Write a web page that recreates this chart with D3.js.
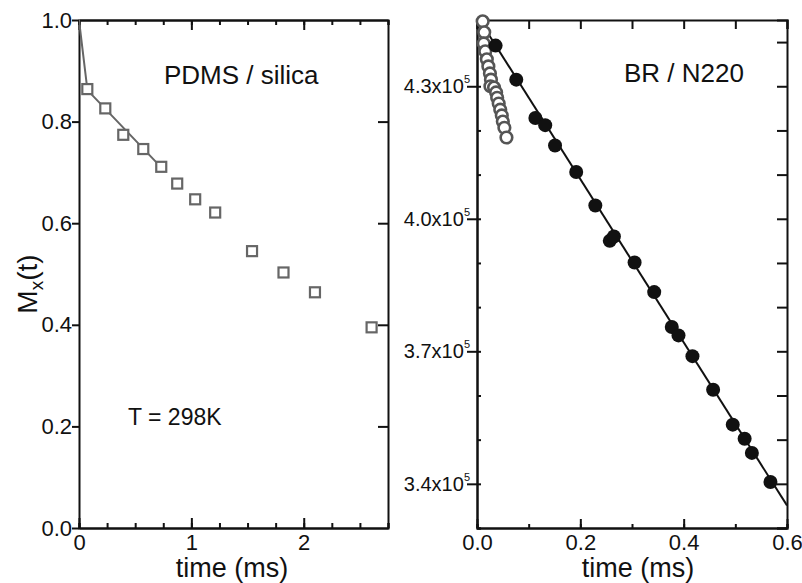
<!DOCTYPE html>
<html>
<head>
<meta charset="utf-8">
<script src="https://cdn.jsdelivr.net/npm/d3@7"></script>
<style>
  body { margin: 0; background: #fff; }
  svg { display: block; font-family: "Liberation Sans", Arial, sans-serif; }
  .axis path, .axis line { stroke: #111; stroke-width: 2; }
  .axis text { fill: #111; font-size: 22px; font-family: "Liberation Sans", Arial, sans-serif; }
</style>
</head>
<body>
<div id="chart"></div>
<script>
var width = 802,
    height = 583;

// PDMS / silica (left panel)
var pdmsTime = [0.074, 0.234, 0.394, 0.572, 0.732, 0.874, 1.034, 1.212, 1.540, 1.820, 2.100, 2.604];
var pdmsMx   = [0.864, 0.826, 0.774, 0.746, 0.711, 0.678, 0.647, 0.621, 0.545, 0.503, 0.464, 0.395];
var pdmsFitTime = [0, 0.075, 0.74];
var pdmsFitMx   = [1.0, 0.862, 0.708];

// BR / N220 (right panel) filled circles
var brTime = [0.036, 0.076, 0.113, 0.132, 0.151, 0.192, 0.229, 0.257, 0.265, 0.305, 0.343,
              0.377, 0.390, 0.417, 0.457, 0.495, 0.518, 0.532, 0.568];
var brM    = [4.392e5, 4.315e5, 4.228e5, 4.212e5, 4.166e5, 4.106e5, 4.030e5, 3.950e5, 3.960e5, 3.901e5, 3.834e5,
              3.755e5, 3.736e5, 3.689e5, 3.613e5, 3.534e5, 3.502e5, 3.470e5, 3.404e5];
// open circles
var brOpenTime = [0.011, 0.014, 0.013, 0.016, 0.019, 0.022, 0.025, 0.027, 0.026, 0.033, 0.037,
                  0.039, 0.042, 0.045, 0.048, 0.050, 0.053, 0.057];
var brOpenM    = [4.447e5, 4.422e5, 4.397e5, 4.379e5, 4.361e5, 4.345e5, 4.329e5, 4.315e5, 4.300e5, 4.297e5, 4.286e5,
                  4.274e5, 4.261e5, 4.247e5, 4.234e5, 4.220e5, 4.206e5, 4.184e5];
var brFitTime = [0, 0.6];
var brFitM    = [4.459e5, 3.351e5];

var leftXTicks = [0, 1, 2];
var leftYTicks = [0, 0.2, 0.4, 0.6, 0.8, 1.0];
var rightXTicks = [0, 0.2, 0.4, 0.6];
var rightYTicks = [3.4e5, 3.7e5, 4.0e5, 4.3e5];
var rightYLabels = ["3.4x10", "3.7x10", "4.0x10", "4.3x10"];

var svg = d3.select("#chart").append("svg")
    .attr("width", width)
    .attr("height", height);

var plotTop = 20, plotBottom = 528;

// ---------- left panel ----------
var xL = d3.scaleLinear().domain([0, 2.75]).range([79, 388]);
var yL = d3.scaleLinear().domain([0, 1]).range([plotBottom, plotTop]);

svg.append("clipPath").attr("id", "clipL")
  .append("rect").attr("x", 79).attr("y", plotTop).attr("width", 309).attr("height", plotBottom - plotTop);

var gL = svg.append("g");

// minor ticks
gL.append("g").attr("class", "axis").attr("transform", "translate(0," + plotBottom + ")")
    .call(d3.axisBottom(xL).tickValues(d3.range(0, 2.76, 0.25)).tickSize(-5).tickFormat(""));
gL.append("g").attr("class", "axis").attr("transform", "translate(0," + plotTop + ")")
    .call(d3.axisTop(xL).tickValues(d3.range(0, 2.76, 0.25)).tickSize(-5).tickFormat(""));
// major
gL.append("g").attr("class", "axis").attr("transform", "translate(0," + plotBottom + ")")
    .call(d3.axisBottom(xL).tickValues(leftXTicks).tickSize(-10).tickSizeOuter(0).tickPadding(6).tickFormat(d3.format("d")));
gL.append("g").attr("class", "axis").attr("transform", "translate(0," + plotTop + ")")
    .call(d3.axisTop(xL).tickValues(leftXTicks).tickSize(-10).tickSizeOuter(0).tickFormat(""));
gL.append("g").attr("class", "axis").attr("transform", "translate(79,0)")
    .call(d3.axisLeft(yL).tickValues(leftYTicks).tickSize(7).tickSizeOuter(0).tickPadding(0).tickFormat(d3.format(".1f")));
gL.append("g").attr("class", "axis").attr("transform", "translate(388,0)")
    .call(d3.axisRight(yL).tickValues([0.2, 0.4, 0.6, 0.8]).tickSize(-10).tickSizeOuter(0).tickFormat(""));

var lineL = d3.line().x(function (d) { return xL(d[0]); }).y(function (d) { return yL(d[1]); });
gL.append("path")
    .datum(d3.zip(pdmsFitTime, pdmsFitMx))
    .attr("d", lineL)
    .attr("clip-path", "url(#clipL)")
    .attr("fill", "none").attr("stroke", "#666").attr("stroke-width", 2);

gL.selectAll("rect.pt")
    .data(d3.zip(pdmsTime, pdmsMx))
    .enter().append("rect")
    .attr("class", "pt")
    .attr("x", function (d) { return xL(d[0]) - 5; })
    .attr("y", function (d) { return yL(d[1]) - 5; })
    .attr("width", 10).attr("height", 10)
    .attr("fill", "#fff").attr("stroke", "#666").attr("stroke-width", 2.2);

gL.append("text").attr("x", 164).attr("y", 84)
    .attr("font-size", 26).attr("fill", "#111").text("PDMS / silica");
gL.append("text").attr("x", 128).attr("y", 425)
    .attr("font-size", 23).attr("fill", "#111").text("T = 298K");
gL.append("text").attr("x", 232).attr("y", 577)
    .attr("text-anchor", "middle").attr("font-size", 27).attr("fill", "#111").text("time (ms)");

var yTitle = gL.append("text")
    .attr("transform", "translate(37,284) rotate(-90)")
    .attr("text-anchor", "middle").attr("font-size", 28).attr("fill", "#111");
yTitle.append("tspan").text("M");
yTitle.append("tspan").attr("font-size", 19).attr("dy", 6).text("x");
yTitle.append("tspan").attr("dy", -6).text("(t)");

// ---------- right panel ----------
var xR = d3.scaleLinear().domain([0, 0.6]).range([477, 787]);
var yR = d3.scaleLinear().domain([3.3e5, 4.45e5]).range([plotBottom, plotTop]);

svg.append("clipPath").attr("id", "clipR")
  .append("rect").attr("x", 477).attr("y", plotTop).attr("width", 310).attr("height", plotBottom - plotTop);

var gR = svg.append("g");
var yMinor = d3.range(33, 45).map(function (v) { return v * 1e4; });

gR.append("g").attr("class", "axis").attr("transform", "translate(0," + plotBottom + ")")
    .call(d3.axisBottom(xR).tickValues(d3.range(0, 0.61, 0.1)).tickSize(-4).tickFormat(""));
gR.append("g").attr("class", "axis").attr("transform", "translate(0," + plotBottom + ")")
    .call(d3.axisBottom(xR).tickValues(rightXTicks).tickSize(-9).tickSizeOuter(0).tickPadding(6).tickFormat(d3.format(".1f")));
gR.append("g").attr("class", "axis").attr("transform", "translate(0," + plotTop + ")")
    .call(d3.axisTop(xR).tickValues(d3.range(0, 0.61, 0.1)).tickSize(-9).tickFormat(""));
gR.append("g").attr("class", "axis").attr("transform", "translate(477,0)")
    .call(d3.axisLeft(yR).tickValues(yMinor).tickSize(-4).tickFormat(""));
gR.append("g").attr("class", "axis").attr("transform", "translate(477,0)")
    .call(d3.axisLeft(yR).tickValues(rightYTicks).tickSize(10).tickSizeOuter(0).tickFormat(""));
gR.append("g").attr("class", "axis").attr("transform", "translate(787,0)")
    .call(d3.axisRight(yR).tickValues(yMinor).tickSize(-10).tickFormat(""));

var ylab = gR.selectAll("text.ylab")
    .data(d3.zip(rightYTicks, rightYLabels))
    .enter().append("text")
    .attr("class", "ylab")
    .attr("x", 470)
    .attr("y", function (d) { return yR(d[0]) + 7; })
    .attr("text-anchor", "end")
    .attr("font-size", 20).attr("fill", "#111");
ylab.append("tspan").text(function (d) { return d[1]; });
ylab.append("tspan").attr("font-size", 11).attr("dy", -10).text("5");

gR.append("path")
    .datum(d3.zip(brFitTime, brFitM))
    .attr("d", d3.line().x(function (d) { return xR(d[0]); }).y(function (d) { return yR(d[1]); }))
    .attr("clip-path", "url(#clipR)")
    .attr("fill", "none").attr("stroke", "#111").attr("stroke-width", 2);

gR.selectAll("circle.open")
    .data(d3.zip(brOpenTime, brOpenM))
    .enter().append("circle")
    .attr("class", "open")
    .attr("cx", function (d) { return xR(d[0]); })
    .attr("cy", function (d) { return yR(d[1]); })
    .attr("r", 5.8)
    .attr("fill", "#fff").attr("stroke", "#555").attr("stroke-width", 2.6);

gR.selectAll("circle.fill")
    .data(d3.zip(brTime, brM))
    .enter().append("circle")
    .attr("class", "fill")
    .attr("cx", function (d) { return xR(d[0]); })
    .attr("cy", function (d) { return yR(d[1]); })
    .attr("r", 7)
    .attr("fill", "#111");

gR.append("text").attr("x", 638).attr("y", 577)
    .attr("text-anchor", "middle").attr("font-size", 27).attr("fill", "#111").text("time (ms)");
gR.append("text").attr("x", 624).attr("y", 82)
    .attr("font-size", 26).attr("fill", "#111").text("BR / N220");
</script>
</body>
</html>
